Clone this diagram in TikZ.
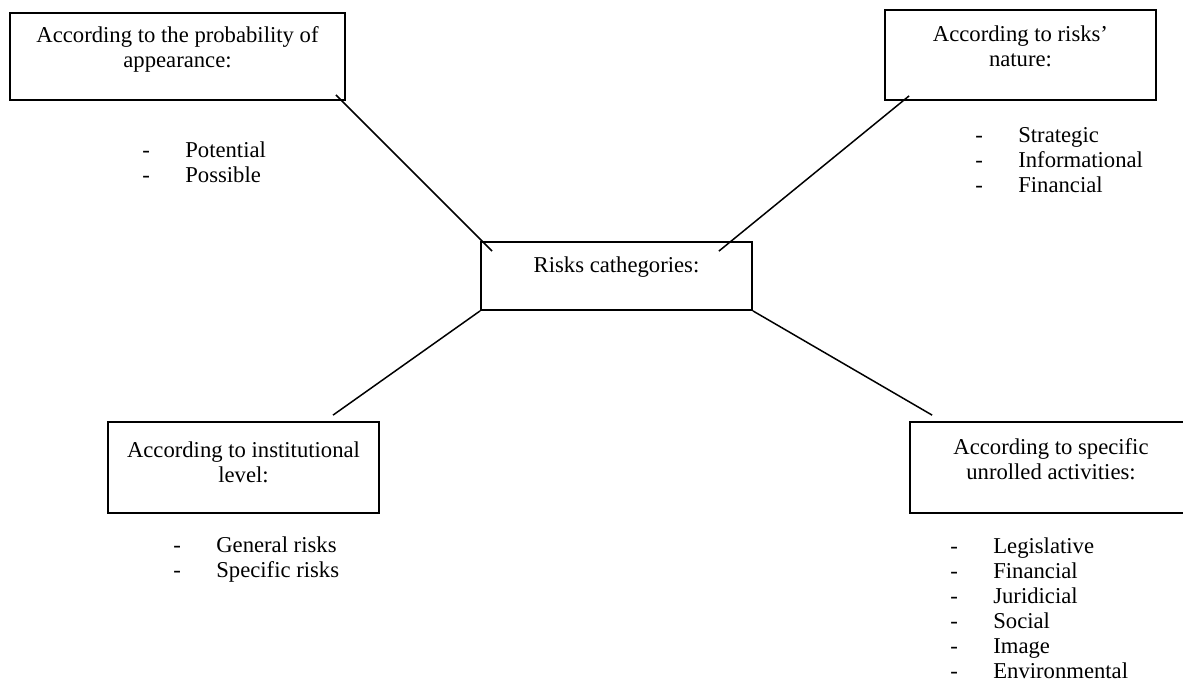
\documentclass[tikz,border=0pt]{standalone}
\usepackage{fontspec}
\setmainfont{Liberation Serif}
\usetikzlibrary{positioning}

\tikzset{
  catbox/.style={draw, line width=1pt, rectangle, inner sep=0pt},
  cattitle/.style={align=center, inner sep=0pt},
  catlist/.style={align=left, inner sep=0pt, anchor=north west},
  link/.style={line width=0.85pt}
}
\newcommand{\itm}[1]{\makebox[0.86cm][l]{-}#1}

\begin{document}
\begin{tikzpicture}[font=\fontsize{12.9}{14.2}\selectfont]

\clip (0,0) rectangle (23.66,13.64);

% the five boxes
\node[catbox, minimum width=6.7cm,  minimum height=1.74cm] (prob)   at (3.55,12.51) {};
\node[catbox, minimum width=5.42cm, minimum height=1.8cm]  (nature) at (20.41,12.54) {};
\node[catbox, minimum width=5.42cm, minimum height=1.36cm] (cat)    at (12.33,8.12) {};
\node[catbox, minimum width=5.42cm, minimum height=1.82cm] (inst)   at (4.87,4.29) {};
\node[catbox, minimum width=5.64cm, minimum height=1.82cm] (activ)  at (21.02,4.29) {};

% titles
\node[cattitle, below=0.29cm of prob.north]   (probtitle)   {According to the probability of\\appearance:};
\node[cattitle, below=0.33cm of nature.north] (naturetitle) {According to risks'\\nature:};
\node[cattitle, below=0.31cm of cat.north]    (cattitle)    {Risks cathegories:};
\node[cattitle, below=0.41cm of inst.north]   (insttitle)   {According to institutional\\level:};
\node[cattitle, below=0.35cm of activ.north]  (activtitle)  {According to specific\\unrolled activities:};

% lists
\node[catlist] (problist)   at (2.84,10.81) {\itm{Potential}\\\itm{Possible}};
\node[catlist] (naturelist) at (19.5,11.09) {\itm{Strategic}\\\itm{Informational}\\\itm{Financial}};
\node[catlist] (instlist)   at (3.46,2.91)  {\itm{General risks}\\\itm{Specific risks}};
\node[catlist] (activlist)  at (19.0,2.89)  {\itm{Legislative}\\\itm{Financial}\\\itm{Juridicial}\\\itm{Social}\\\itm{Image}\\\itm{Environmental}};

% links
\draw[link] ([shift={(-0.2,0.12)}]prob.south east) -- ([shift={(0.24,-0.2)}]cat.north west);
\draw[link] ([shift={(0.5,0.1)}]nature.south west) -- ([shift={(-0.68,-0.2)}]cat.north east);
\draw[link] (cat.south west) -- ([shift={(1.79,0.12)}]inst.north);
\draw[link] (cat.south east) -- ([shift={(0.46,0.12)}]activ.north west);

\end{tikzpicture}
\end{document}
